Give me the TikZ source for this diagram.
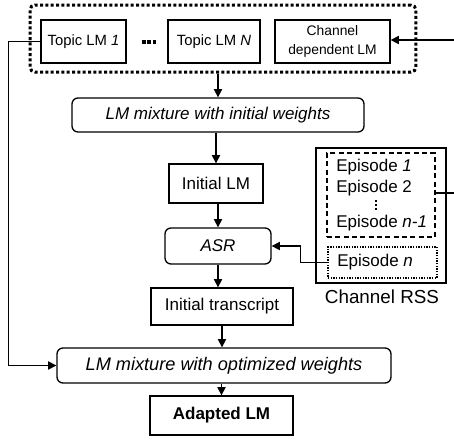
\documentclass[tikz,border=0pt]{standalone}
\usepackage{fontspec}
\setmainfont{Liberation Sans}
\usetikzlibrary{arrows.meta}
\newcommand{\setfs}[1]{\fontsize{#1}{#1}\selectfont}

\begin{document}
\begin{tikzpicture}[x=0.6pt, y=-0.6pt,
	every node/.style={inner sep=0pt, font=\setfs{10.2}},
	lmbox/.style={draw, line width=0.8pt},
	roundbox/.style={lmbox, rounded corners=3.6pt},
	arr/.style={-{Triangle[length=5pt,width=5pt]}, line width=0.8pt}]

\useasboundingbox (0, 0) rectangle (454, 445);

% language models
\node[lmbox, minimum width=51pt, minimum height=25.8pt, font=\setfs{8.9}] (topic1) at (83.5, 41.5) {Topic LM \textit{1}};
\node[lmbox, minimum width=55.2pt, minimum height=25.8pt, font=\setfs{8.9}] (topicN) at (214, 41.5) {Topic LM \textit{N}};
\node[lmbox, minimum width=69pt, minimum height=25.8pt, align=center, font=\fontsize{8.3}{11}\selectfont] (chandep) at (332.5, 41.5) {Channel\\dependent LM};
\draw[line width=2.4pt, dash pattern=on 2.4pt off 1pt] ([xshift=9pt]topic1.east) -- ([xshift=-7pt]topicN.west);
\node[draw, line width=1.8pt, dash pattern=on 1.8pt off 1.4pt, rounded corners=3pt, minimum width=231.6pt, minimum height=40.2pt] (pool) at (223, 38.5) {};

% adaptation chain
\node[roundbox, minimum width=175.2pt, minimum height=20.4pt] (mixinit) at (218, 115) {\textit{LM mixture with initial weights}};
\node[lmbox, minimum width=56.4pt, minimum height=23.4pt] (initlm) at (216, 183.5) {Initial LM};
\node[roundbox, minimum width=63.6pt, minimum height=21.6pt] (asr) at (218, 246) {\textit{ASR}};
\node[lmbox, minimum width=85.2pt, minimum height=22.2pt] (transcript) at (222, 306.5) {Initial transcript};
\node[roundbox, minimum width=200.4pt, minimum height=21pt, font=\setfs{10.9}] (mixopt) at (224, 365.5) {\textit{LM mixture with optimized weights}};
\node[lmbox, minimum width=85.8pt, minimum height=23.4pt, font=\bfseries\setfs{10.2}] (adapted) at (221.5, 415.5) {Adapted LM};

% channel feed
\node[lmbox, minimum width=78pt, minimum height=81pt] (rss) at (381, 215.5) {};
\node[draw, line width=0.7pt, dash pattern=on 3pt off 2pt, minimum width=64.8pt, minimum height=50.4pt] (episodes) at (381, 195) {};
\node[draw, line width=0.8pt, dash pattern=on 0.8pt off 0.8pt, minimum width=65.4pt, minimum height=18.6pt] (epn) at (382.5, 262.5) {};
\node[anchor=west] (ep1) at (336, 167) {Episode \textit{1}};
\node[anchor=west] (ep2) at (336, 188) {Episode 2};
\draw[line width=1.3pt, dash pattern=on 1.3pt off 1pt] (376, 200) -- (376, 210);
\node[anchor=west] (epn1) at (336, 223) {Episode \textit{n-1}};
\node[anchor=west] (epnlabel) at (337, 262.5) {Episode \textit{n}};
\node[font=\setfs{11.3}] (rsslabel) at (382, 297) {Channel RSS};

% feed leaves the page on the right and comes back at the top
\coordinate (feedout) at (454, 193);
\coordinate (feedin) at (454, 40);

% connectors
\draw[arr] (mixinit.north |- pool.south) -- (mixinit.north);
\draw[arr] (initlm.north |- mixinit.south) -- (initlm.north);
\draw[arr] (asr.north |- initlm.south) -- (asr.north);
\draw[arr] (asr.south) -- (asr.south |- transcript.north);
\draw[arr] (transcript.south) -- (transcript.south |- mixopt.north);
\draw[arr] (adapted.north |- mixopt.south) -- (adapted.north);
\draw[arr] (topic1.west) -- ++(-32, 0) |- (mixopt.west);
\draw[line width=0.8pt] (episodes.east |- feedout) -- (feedout);
\draw[arr] (feedin) -- (feedin -| chandep.east);
\draw[arr] (epn.west) -- ++(-27, 0) |- (asr.east);

\end{tikzpicture}
\end{document}
